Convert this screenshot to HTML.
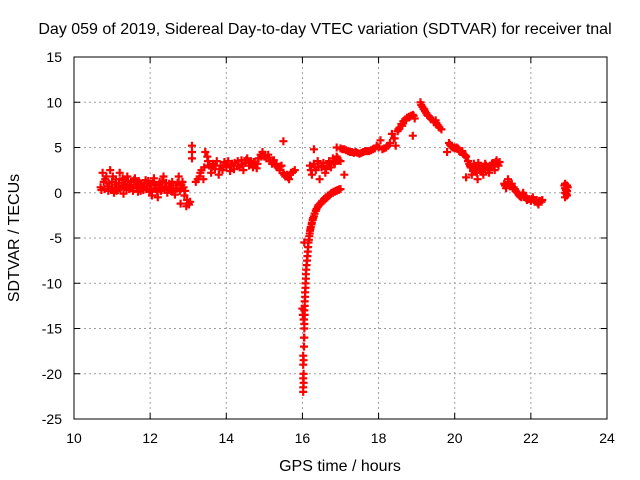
<!DOCTYPE html>
<html><head><meta charset="utf-8"><style>
body{margin:0;background:#fff}
svg{display:block;font-family:"Liberation Sans",sans-serif}
</style></head><body>
<svg id="chart" width="640" height="480">
<text x="325" y="34" text-anchor="middle" font-size="16">Day 059 of 2019, Sidereal Day-to-day VTEC variation (SDTVAR) for receiver tnal</text>
<text x="340" y="471" text-anchor="middle" font-size="16">GPS time / hours</text>
<text transform="translate(19,238) rotate(-90)" text-anchor="middle" font-size="16">SDTVAR / TECUs</text>
<g id="grid"></g><g id="ticks"></g><g id="marks"></g>
<rect x="74" y="57" width="533" height="362" fill="none" stroke="#000" stroke-width="1"/>
</svg>
<script>
const xTicks=[10,12,14,16,18,20,22,24];
const yTicks=[15,10,5,0,-5,-10,-15,-20,-25];
const times=[10.7,10.75,10.8,10.85,10.9,10.95,11.0,11.05,11.1,11.15,11.2,11.25,11.3,11.35,11.4,11.45,11.5,11.55,11.6,11.65,11.7,11.75,11.8,11.85,11.9,11.95,12.0,12.05,12.1,12.15,12.2,12.25,12.3,12.35,12.4,12.45,12.5,12.55,12.6,12.65,12.7,12.75,12.8,12.85,12.9,12.95,13.0,13.05,12.8,
11.0,11.1,11.3,11.5,11.7,12.0,12.3,12.6,12.8,
13.1,13.1,13.1,
13.2,13.3,13.35,13.4,13.45,13.5,13.55,13.6,13.65,13.7,13.75,13.8,13.85,13.9,13.95,14.0,14.05,14.1,14.15,14.2,14.3,14.35,14.4,14.45,14.5,14.55,14.6,14.65,14.7,14.75,14.8,14.85,14.9,14.95,15.0,15.05,15.1,15.15,15.2,15.25,15.3,15.35,15.4,15.45,15.5,15.55,15.6,15.65,15.7,15.8,15.5,
16.2,16.25,16.3,16.35,16.4,16.45,16.5,16.55,16.6,16.65,16.7,16.75,16.8,16.85,16.9,16.95,17.0,16.3,17.1,
16.9,17.0,17.1,17.2,17.3,17.4,17.5,17.6,17.7,17.8,17.9,17.95,18.0,18.05,18.1,18.2,18.3,18.35,18.4,18.45,
18.5,18.55,18.6,18.65,18.7,18.75,18.8,18.85,18.9,18.95,18.9,
19.1,19.15,19.2,19.25,19.3,19.5,19.55,19.6,19.65,
19.85,19.9,19.95,20.0,20.05,20.1,20.15,20.2,20.25,20.3,19.8,
20.35,20.4,20.45,20.5,20.55,20.6,20.65,20.7,20.75,20.8,20.85,20.9,20.95,21.0,21.05,21.1,21.15,20.3,
21.3,21.35,21.4,21.5,21.55,21.6,21.65,21.7,21.75,21.8,21.85,21.9,22.0,22.05,22.1,22.15,22.2,22.25,22.3,
22.9,22.9,22.9,22.9,22.95,22.95,22.95,
16.0,16.03,16.05,16.05,16.02,16.03,16.03,16.02,16.06,16.08,16.1,16.12,16.14,16.16,16.18,16.2,16.25,16.3,16.35,16.4,16.5,16.6,16.7,16.8,16.9,17.0,16.05,
16.02,16.02,16.04,16.05,16.06,16.07,16.09,16.22,16.27,16.45,16.55,16.65,16.75,16.85,16.95,
10.72,10.78,10.82,10.88,10.92,10.98,11.02,11.08,11.12,11.18,11.22,11.28,11.32,11.38,11.42,11.48,11.52,11.58,11.62,11.68,11.72,11.78,11.82,11.88,11.92,11.98,12.02,12.08,12.12,12.18,12.22,12.28,12.32,12.38,12.42,12.48,12.52,12.58,12.62,12.68,12.72,12.78,12.82,12.88,12.92,12.97,13.02,
13.25,13.32,13.42,13.52,13.62,13.72,13.82,13.92,14.02,14.12,14.22,14.32,14.42,14.52,14.62,14.72,14.82,14.92,15.02,15.12,15.22,15.32,15.42,15.52,15.62,15.75,
16.22,16.32,16.42,16.52,16.62,16.72,16.82,16.92,
17.05,17.15,17.25,17.35,17.45,17.55,17.65,17.75,17.85,18.15,18.25,18.42,18.52,18.62,18.72,18.82,18.92,19.12,19.18,19.22,19.28,19.35,19.4,19.45,19.52,19.58,
19.88,19.92,19.98,20.08,20.12,20.18,20.22,20.28,20.38,20.42,20.48,20.52,20.58,20.62,20.68,20.72,20.78,20.82,20.88,20.92,20.98,21.02,21.08,21.12,21.18,
21.32,21.42,21.45,21.58,21.62,21.68,21.72,21.78,21.82,21.88,21.95,22.02,22.08,22.12,22.18,22.22,22.28,
22.88,22.92,22.93,22.97,
16.01,16.02,16.03,16.04,16.04,16.05,16.06,16.07,16.08,16.09,16.11,16.13,16.15,16.17,16.19,16.21,16.24,16.28,16.32,16.37,16.42,16.47,16.52,16.57,16.62,16.67,16.72,16.77,16.82,16.87,16.92,16.97];
const values=[0.6,2.2,0.4,1.8,0.2,2.5,0.5,0.0,1.5,0.3,2.2,0.8,-0.1,1.0,1.8,0.4,1.2,0.2,1.6,0.5,0.9,0.2,0.6,1.0,0.4,1.3,0.8,-0.3,1.6,0.5,-0.5,1.2,0.3,1.8,0.6,0.0,1.0,0.2,0.8,-0.2,0.5,1.8,0.4,1.2,-0.3,-1.5,-1.2,-1.0,-1.2,
1.2,0.6,1.4,0.6,1.3,1.0,0.7,0.3,0.9,
5.2,4.5,3.8,
1.2,1.8,2.5,1.5,4.5,4.0,3.0,2.2,3.2,2.6,3.5,2.0,3.0,2.5,3.4,2.8,3.5,2.4,3.2,2.6,3.5,2.8,3.6,2.5,3.3,3.8,3.0,3.5,2.8,3.3,2.7,3.8,4.2,4.5,4.0,3.8,4.2,3.5,3.2,3.6,3.0,2.8,2.5,3.0,2.2,1.8,2.0,1.5,2.2,2.5,5.7,
3.0,2.0,3.2,2.5,3.5,1.5,2.8,3.3,2.2,3.0,3.5,2.8,3.8,3.2,4.0,3.6,3.5,4.8,2.0,
5.0,4.9,4.8,4.6,4.5,4.5,4.3,4.5,4.6,4.7,4.9,5.2,5.0,5.8,4.8,5.0,5.5,6.5,6.0,5.2,
6.8,7.2,7.6,7.9,8.1,8.3,8.4,8.5,8.6,8.2,6.3,
10.0,9.5,9.2,8.8,8.5,8.0,7.5,7.2,7.0,
5.5,5.2,5.0,4.9,5.0,4.8,4.5,4.6,4.2,4.0,4.5,
3.5,3.0,2.0,3.2,2.5,1.5,3.0,2.5,2.0,3.2,2.8,2.2,3.0,3.3,2.5,3.6,3.0,1.7,
1.0,0.5,1.5,1.0,0.6,0.2,0.0,-0.3,-0.5,0.0,-0.5,-0.8,-0.9,-0.5,-1.0,-0.8,-1.3,-0.9,-0.8,
1.0,0.5,0.0,-0.5,-0.3,0.8,0.2,
-12.8,-14,-16,-13,-18,-20,-21,-22,-12,-10,-8.5,-7.5,-6.5,-5.5,-4.8,-4.2,-3.3,-2.6,-2.0,-1.6,-1.1,-0.7,-0.3,0.0,0.2,0.4,-5.5,
-21.5,-19,-17,-15,-13.5,-11,-9,-3.8,-3.0,-1.3,-0.9,-0.5,-0.1,0.1,0.3,
0.3,1.2,1.5,0.7,1.0,0.3,1.8,0.9,0.2,1.1,0.4,1.6,0.6,0.3,1.3,0.8,0.5,1.4,0.9,0.1,1.1,0.6,0.3,1.4,0.7,0.1,0.3,1.1,0.9,0.1,0.8,0.2,1.3,0.5,1.1,0.4,0.6,1.2,0.1,0.8,1.1,0.2,0.9,0.6,0.2,-0.8,-1.3,
1.5,2.2,2.8,3.5,2.8,3.0,2.6,3.0,3.2,3.0,3.3,3.0,3.1,3.6,3.3,3.4,3.2,4.0,4.2,3.9,3.4,3.2,2.9,2.0,1.7,2.3,
2.5,2.8,2.9,3.0,2.6,3.2,3.4,3.8,
4.8,4.7,4.5,4.4,4.4,4.4,4.6,4.6,4.8,4.9,5.2,6.0,7.0,7.4,8.0,8.4,8.5,9.7,9.3,9.0,8.6,8.3,8.1,7.8,7.7,7.3,
5.3,5.1,5.0,4.9,4.6,4.6,4.3,4.1,3.2,2.8,2.4,2.8,2.2,3.3,2.7,2.3,2.9,3.0,2.5,2.6,3.2,2.9,3.4,3.2,3.4,
0.8,1.2,0.7,0.4,0.1,-0.2,-0.4,-0.2,-0.3,-0.6,-0.7,-0.7,-0.8,-0.9,-1.1,-0.9,-1.0,
0.8,0.3,-0.1,0.6,
-13.5,-20.5,-18.5,-16,-14,-14.5,-12.5,-11.5,-10.5,-9.5,-8,-7,-6,-5.2,-4.5,-4.0,-3.5,-2.8,-2.3,-1.8,-1.4,-1.2,-0.9,-0.7,-0.5,-0.3,-0.2,0.0,0.1,0.2,0.3,0.4];
const X=t=>74+(t-10)*(533/14);
const Y=v=>57+(15-v)*(362/40);
const NS="http://www.w3.org/2000/svg";
const grid=document.getElementById('grid'),ticks=document.getElementById('ticks'),marks=document.getElementById('marks');
function mk(tag,attrs,parent){const e=document.createElementNS(NS,tag);for(const k in attrs)e.setAttribute(k,attrs[k]);parent.appendChild(e);return e;}
xTicks.forEach(t=>{
  const x=X(t);
  if(t>10&&t<24){const g=mk('line',{x1:x,x2:x,y1:57,y2:419,stroke:'#a0a0a0','stroke-dasharray':'2,3'},grid);
  
  }
  mk('line',{x1:x,x2:x,y1:419,y2:413,stroke:'#000'},ticks);
  mk('line',{x1:x,x2:x,y1:57,y2:63,stroke:'#000'},ticks);
  const l=mk('text',{x:x,y:443,'text-anchor':'middle','font-size':14},ticks);l.textContent=t;
  
  
});
yTicks.forEach(v=>{
  const y=Y(v);
  if(v<15&&v>-25){const g=mk('line',{x1:74,x2:607,y1:y,y2:y,stroke:'#a0a0a0','stroke-dasharray':'2,3'},grid);
  
  }
  mk('line',{x1:74,x2:80,y1:y,y2:y,stroke:'#000'},ticks);
  mk('line',{x1:607,x2:601,y1:y,y2:y,stroke:'#000'},ticks);
  const l=mk('text',{x:62,y:y+5,'text-anchor':'end','font-size':14},ticks);l.textContent=v;
  
  
});
let d='';
for(let i=0;i<Math.min(times.length,values.length);i++){
  const x=X(times[i]),y=Y(values[i]);
  d+=`M${(x-4).toFixed(1)} ${y.toFixed(1)}h8M${x.toFixed(1)} ${(y-4).toFixed(1)}v8`;
}
const p=mk('path',{d:d,stroke:'#ff0000','stroke-width':2.2,fill:'none'},marks);


</script>
</body></html>
